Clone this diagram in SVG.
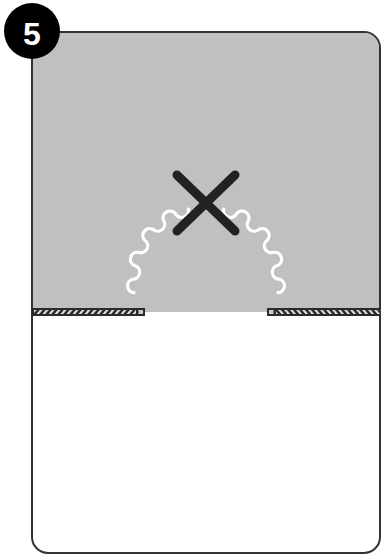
<svg xmlns="http://www.w3.org/2000/svg" width="381" height="554" viewBox="0 0 381 554">
<style>
.card{fill:#ffffff;stroke:#333333;stroke-width:2}
.gray{fill:#c0c0c0}
.wave{fill:none;stroke:#ffffff;stroke-width:3.2;stroke-linecap:round;stroke-linejoin:round}
.cross{stroke:#222222;stroke-width:9;stroke-linecap:round}
.barbg{fill:#2a2a2a}
.sq{fill:#cccccc}
.num{font-family:"Liberation Sans",Arial,sans-serif;font-weight:bold;font-size:32px;fill:#ffffff}
</style>
<defs>
<pattern id="hatchL" patternUnits="userSpaceOnUse" width="6" height="10" patternTransform="skewX(-40)">
<rect x="0" y="0" width="2.6" height="10" fill="#e8e8e8"/>
</pattern>
<pattern id="hatchR" patternUnits="userSpaceOnUse" width="6" height="10" patternTransform="skewX(40)">
<rect x="0" y="0" width="2.6" height="10" fill="#e8e8e8"/>
</pattern>
</defs>
<g id="card">
<rect class="card" x="32" y="32" width="348" height="521" rx="16" ry="16"/>
<path class="gray" d="M33,312 L33,48 A15,15 0 0 1 48,33 L364,33 A15,15 0 0 1 379,48 L379,312 Z"/>
</g>
<g id="waves">
<path class="wave" d="M134.11,292.68 A6.9,6.9 0 0 1 133.01,279.04 A6.9,6.9 0 0 0 134.47,265.45 A6.9,6.9 0 0 1 138.44,252.36 A6.9,6.9 0 0 0 144.78,240.24 A6.9,6.9 0 0 1 153.27,229.52 A6.9,6.9 0 0 0 163.61,220.57 A6.9,6.9 0 0 1 175.44,213.71 A6.9,6.9 0 0 0 188.34,209.17"/>
<path class="wave" d="M277.89,292.68 A6.9,6.9 0 0 0 278.99,279.04 A6.9,6.9 0 0 1 277.53,265.45 A6.9,6.9 0 0 0 273.56,252.36 A6.9,6.9 0 0 1 267.22,240.24 A6.9,6.9 0 0 0 258.73,229.52 A6.9,6.9 0 0 1 248.39,220.57 A6.9,6.9 0 0 0 236.56,213.71 A6.9,6.9 0 0 1 223.66,209.17"/>
</g>
<g id="cross">
<line class="cross" x1="177" y1="175" x2="235" y2="231"/>
<line class="cross" x1="235" y1="175" x2="177" y2="231"/>
</g>
<g id="bar-left">
<rect class="barbg" x="32" y="308" width="113" height="8"/>
<rect x="34" y="310" width="102" height="4" fill="url(#hatchL)"/>
<rect class="sq" x="138.5" y="310" width="4.5" height="4"/>
</g>
<g id="bar-right">
<rect class="barbg" x="267" y="308" width="114" height="8"/>
<rect x="276" y="310" width="105" height="4" fill="url(#hatchR)"/>
<rect class="sq" x="269" y="310" width="4.5" height="4"/>
</g>
<g id="badge">
<circle cx="32" cy="31" r="28" fill="#000000"/>
<text class="num" x="32" y="45" text-anchor="middle">5</text>
</g>
</svg>
